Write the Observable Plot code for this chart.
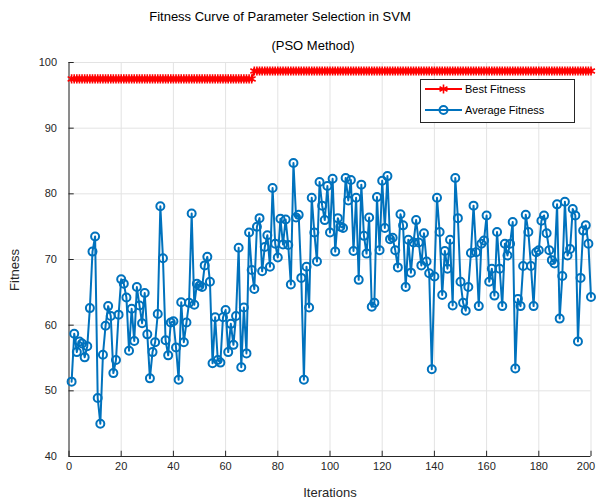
<!DOCTYPE html>
<html>
<head>
<meta charset="utf-8">
<script src="https://cdn.jsdelivr.net/npm/d3@7"></script>
<script src="https://cdn.jsdelivr.net/npm/@observablehq/plot@0.6"></script>
<style>
  html, body { margin: 0; padding: 0; background: #fff; }
  #chart { width: 596px; height: 502px; }
</style>
</head>
<body>
<div id="chart"></div>
<script>
const titleLine1 = "Fitness Curve of Parameter Selection in SVM";
const titleLine2 = "(PSO Method)";
const xLabel = "Iterations";
const yLabel = "Fitness";
const seriesNames = ["Best Fitness", "Average Fitness"];
const xTicks = [0, 20, 40, 60, 80, 100, 120, 140, 160, 180, 200];
const yTicks = [40, 50, 60, 70, 80, 90, 100];

const avgFitness = [
  51.4, 58.7, 55.9, 57.5, 57.2, 55.1, 56.8, 62.6, 71.2, 73.5,
  48.9, 45.0, 55.5, 59.9, 62.9, 61.4, 52.7, 54.7, 61.6, 67.0,
  66.3, 64.2, 56.1, 62.5, 57.6, 65.8, 63.0, 60.3, 64.9, 58.6,
  51.9, 55.9, 57.4, 61.7, 78.1, 70.2, 57.7, 55.4, 60.4, 60.6,
  56.6, 51.7, 63.5, 57.4, 60.4, 63.4, 77.0, 63.1, 66.3, 66.0,
  65.8, 69.1, 70.4, 66.6, 54.2, 61.2, 54.7, 54.3, 61.2, 62.3,
  55.9, 60.2, 57.0, 61.4, 71.8, 53.6, 62.7, 55.7, 74.1, 68.4,
  65.5, 75.0, 76.3, 68.2, 71.9, 73.7, 68.9, 80.9, 72.4, 70.3,
  76.2, 72.3, 76.1, 72.2, 66.2, 84.7, 76.4, 76.8, 67.2, 51.7,
  68.9, 62.7, 79.4, 74.1, 69.7, 81.8, 78.2, 76.0, 81.2, 74.1,
  82.3, 71.2, 76.3, 75.0, 74.8, 82.4, 79.0, 82.1, 71.3, 79.4,
  66.9, 81.4, 73.6, 70.9, 76.4, 62.8, 63.4, 79.5, 71.4, 82.0,
  74.8, 82.7, 73.1, 73.3, 71.4, 68.8, 76.9, 75.2, 65.8, 73.0,
  68.0, 72.6, 76.0, 72.6, 69.1, 74.0, 69.7, 67.9, 53.3, 67.4,
  79.4, 74.2, 64.6, 71.3, 68.6, 73.0, 63.0, 82.4, 76.3, 66.6,
  63.4, 62.2, 65.8, 71.0, 78.2, 71.1, 62.9, 72.4, 72.9, 76.7,
  66.6, 68.6, 64.5, 74.2, 68.6, 62.9, 72.4, 70.6, 72.4, 75.7,
  53.4, 64.0, 62.9, 69.0, 76.8, 74.2, 69.0, 62.9, 71.1, 71.4,
  75.9, 76.7, 74.0, 71.4, 69.9, 69.4, 78.4, 61.0, 67.5, 78.8,
  70.6, 71.6, 77.7, 76.7, 57.5, 67.2, 74.4, 75.2, 72.4, 64.3
];

const bestFitness = [
  97.5, 97.5, 97.5, 97.5, 97.5, 97.5, 97.5, 97.5, 97.5, 97.5,
  97.5, 97.5, 97.5, 97.5, 97.5, 97.5, 97.5, 97.5, 97.5, 97.5,
  97.5, 97.5, 97.5, 97.5, 97.5, 97.5, 97.5, 97.5, 97.5, 97.5,
  97.5, 97.5, 97.5, 97.5, 97.5, 97.5, 97.5, 97.5, 97.5, 97.5,
  97.5, 97.5, 97.5, 97.5, 97.5, 97.5, 97.5, 97.5, 97.5, 97.5,
  97.5, 97.5, 97.5, 97.5, 97.5, 97.5, 97.5, 97.5, 97.5, 97.5,
  97.5, 97.5, 97.5, 97.5, 97.5, 97.5, 97.5, 97.5, 97.5, 97.5,
  98.7, 98.7, 98.7, 98.7, 98.7, 98.7, 98.7, 98.7, 98.7, 98.7,
  98.7, 98.7, 98.7, 98.7, 98.7, 98.7, 98.7, 98.7, 98.7, 98.7,
  98.7, 98.7, 98.7, 98.7, 98.7, 98.7, 98.7, 98.7, 98.7, 98.7,
  98.7, 98.7, 98.7, 98.7, 98.7, 98.7, 98.7, 98.7, 98.7, 98.7,
  98.7, 98.7, 98.7, 98.7, 98.7, 98.7, 98.7, 98.7, 98.7, 98.7,
  98.7, 98.7, 98.7, 98.7, 98.7, 98.7, 98.7, 98.7, 98.7, 98.7,
  98.7, 98.7, 98.7, 98.7, 98.7, 98.7, 98.7, 98.7, 98.7, 98.7,
  98.7, 98.7, 98.7, 98.7, 98.7, 98.7, 98.7, 98.7, 98.7, 98.7,
  98.7, 98.7, 98.7, 98.7, 98.7, 98.7, 98.7, 98.7, 98.7, 98.7,
  98.7, 98.7, 98.7, 98.7, 98.7, 98.7, 98.7, 98.7, 98.7, 98.7,
  98.7, 98.7, 98.7, 98.7, 98.7, 98.7, 98.7, 98.7, 98.7, 98.7,
  98.7, 98.7, 98.7, 98.7, 98.7, 98.7, 98.7, 98.7, 98.7, 98.7,
  98.7, 98.7, 98.7, 98.7, 98.7, 98.7, 98.7, 98.7, 98.7, 98.7
];

const iterations = d3.range(1, avgFitness.length + 1);
const avgData = iterations.map((it, i) => ({iter: it, value: avgFitness[i]}));
const bestData = iterations.map((it, i) => ({iter: it, value: bestFitness[i]}));

const BLUE = "#0072BD";
const RED = "#FF0000";
const AXIS = "#262626";
const GRID = "#e3e3e3";
const FONT = "'Liberation Sans', Arial, Helvetica, sans-serif";

const chart = Plot.plot({
  width: 596,
  height: 502,
  marginLeft: 68.5,
  marginRight: 5.5,
  marginTop: 62,
  marginBottom: 46,
  style: {fontFamily: FONT, fontSize: "11px", color: AXIS, background: "#fff", overflow: "visible"},
  x: {domain: [0, 200], ticks: xTicks, tickSize: 0, tickPadding: 6, label: null},
  y: {domain: [40, 100], ticks: yTicks, tickSize: 0, tickPadding: 12, label: null},
  marks: [
    Plot.ruleX(xTicks, {stroke: GRID, strokeWidth: 1}),
    Plot.ruleY(yTicks, {stroke: GRID, strokeWidth: 1}),
    Plot.ruleX(xTicks, {y1: 40, y2: 40.8, stroke: AXIS, strokeWidth: 1}),
    Plot.ruleY(yTicks, {x1: 0, x2: 2, stroke: AXIS, strokeWidth: 1}),
    Plot.ruleX([0], {stroke: AXIS, strokeWidth: 1}),
    Plot.ruleY([40], {stroke: AXIS, strokeWidth: 1}),
    Plot.line(bestData, {x: "iter", y: "value", stroke: RED, strokeWidth: 2}),
    Plot.dot(bestData, {x: "iter", y: "value", symbol: "asterisk", r: 4.3, stroke: RED, strokeWidth: 1.6}),
    Plot.line(avgData, {x: "iter", y: "value", stroke: BLUE, strokeWidth: 2}),
    Plot.dot(avgData, {x: "iter", y: "value", r: 4, stroke: BLUE, strokeWidth: 2, fill: "none"})
  ]
});

const svg = d3.select(chart);

// keep the last x tick label ("200") inside the picture, as in the reference
const xTickTexts = svg.selectAll('[aria-label="x-axis tick label"] text').nodes();
if (xTickTexts.length) {
  const last = d3.select(xTickTexts[xTickTexts.length - 1]);
  last.attr("dx", -5);
}

// titles
svg.append("text").attr("x", 280).attr("y", 21).attr("text-anchor", "middle")
  .attr("font-family", FONT).attr("font-size", 13).attr("fill", "#000").text(titleLine1);
svg.append("text").attr("x", 313).attr("y", 50).attr("text-anchor", "middle")
  .attr("font-family", FONT).attr("font-size", 13).attr("fill", "#000").text(titleLine2);

// axis labels
svg.append("text").attr("x", 330).attr("y", 497).attr("text-anchor", "middle")
  .attr("font-family", FONT).attr("font-size", 13).attr("fill", AXIS).text(xLabel);
svg.append("text").attr("transform", "translate(19,270) rotate(-90)").attr("text-anchor", "middle")
  .attr("font-family", FONT).attr("font-size", 13).attr("fill", AXIS).text(yLabel);

// legend
const lg = svg.append("g");
lg.append("rect").attr("x", 420.5).attr("y", 79.5).attr("width", 154).attr("height", 43)
  .attr("fill", "#fff").attr("stroke", AXIS).attr("stroke-width", 1);
const items = [
  {name: seriesNames[0], color: RED, y: 89, sym: "asterisk"},
  {name: seriesNames[1], color: BLUE, y: 110, sym: "circle"}
];
items.forEach(it => {
  lg.append("line").attr("x1", 425).attr("x2", 462).attr("y1", it.y).attr("y2", it.y)
    .attr("stroke", it.color).attr("stroke-width", 2);
  if (it.sym === "asterisk") {
    lg.append("path").attr("transform", `translate(443.5,${it.y})`)
      .attr("d", d3.symbol(d3.symbolAsterisk, Math.PI * 4.3 * 4.3)())
      .attr("stroke", it.color).attr("stroke-width", 1.6).attr("fill", "none");
  } else {
    lg.append("circle").attr("cx", 443.5).attr("cy", it.y).attr("r", 4)
      .attr("stroke", it.color).attr("stroke-width", 2).attr("fill", "none");
  }
  lg.append("text").attr("x", 465).attr("y", it.y + 4).attr("text-anchor", "start")
    .attr("font-family", FONT).attr("font-size", 11).attr("fill", "#000").text(it.name);
});

document.getElementById("chart").appendChild(chart);
</script>
</body>
</html>
